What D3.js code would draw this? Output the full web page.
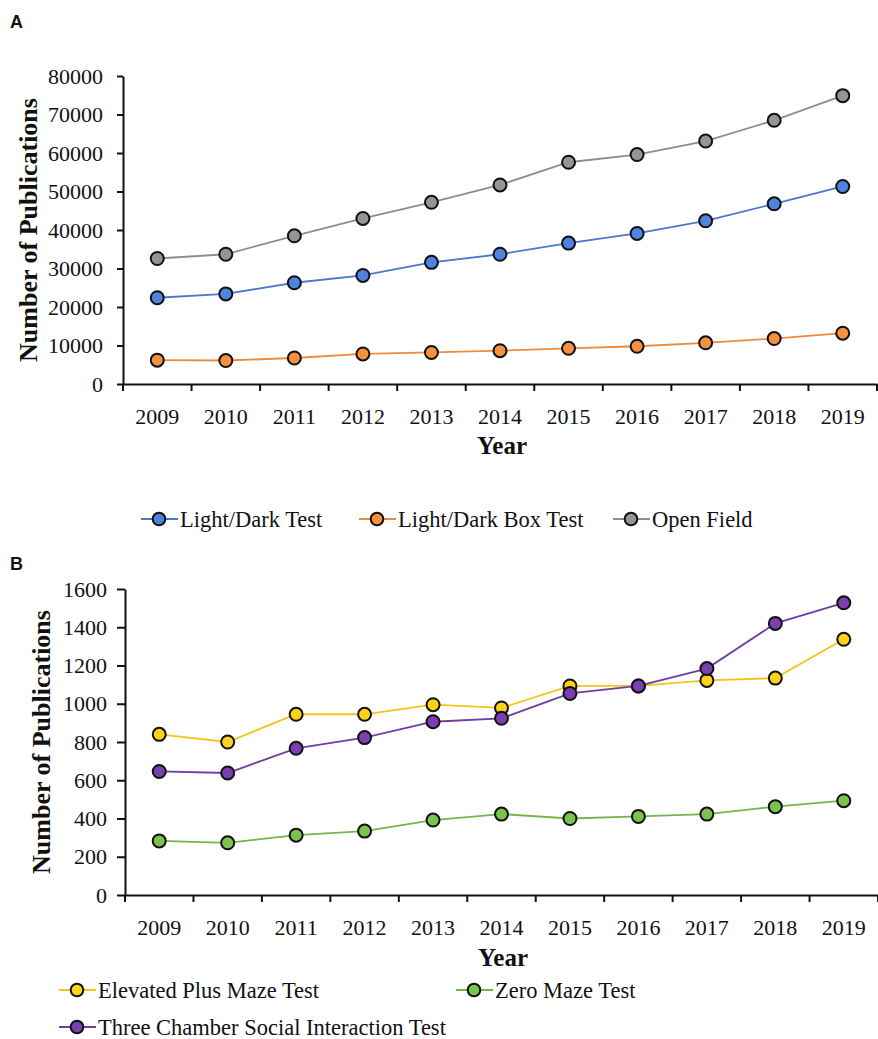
<!DOCTYPE html>
<html>
<head>
<meta charset="utf-8">
<script src="https://cdn.jsdelivr.net/npm/d3@7"></script>
<style>
  html, body { margin: 0; padding: 0; background: #fff; }
  svg { display: block; }
  text { font-family: "Liberation Serif", "Times New Roman", serif; fill: #111; }
</style>
</head>
<body>
<svg id="chart" width="878" height="1039"></svg>
<script>
// Years shared by both panels
const years = ["2009","2010","2011","2012","2013","2014","2015","2016","2017","2018","2019"];

// Panel A: publications per year
const lightDarkTest    = [22400, 23400, 26300, 28200, 31600, 33700, 36600, 39100, 42400, 46800, 51300];
const lightDarkBoxTest = [6200, 6100, 6750, 7800, 8200, 8650, 9270, 9800, 10700, 11800, 13200];
const openField        = [32600, 33700, 38500, 43000, 47200, 51700, 57600, 59600, 63100, 68500, 74900];
const ticksA = [0, 10000, 20000, 30000, 40000, 50000, 60000, 70000, 80000];

// Panel B: publications per year
const elevatedPlusMaze  = [840, 800, 945, 945, 995, 978, 1093, 1093, 1122, 1134, 1337];
const zeroMaze          = [283, 273, 313, 334, 392, 423, 400, 411, 423, 462, 493];
const threeChamberSocial = [646, 638, 767, 823, 906, 924, 1054, 1093, 1184, 1420, 1528];
const ticksB = [0, 200, 400, 600, 800, 1000, 1200, 1400, 1600];

const seriesA = [
  { name: "Light/Dark Test",     values: lightDarkTest,    line: "#4a78cf", fill: "#4f83e0" },
  { name: "Light/Dark Box Test", values: lightDarkBoxTest, line: "#ee8a3c", fill: "#f5913f" },
  { name: "Open Field",          values: openField,        line: "#8d8d8d", fill: "#959595" }
];
const seriesB = [
  { name: "Elevated Plus Maze Test",            values: elevatedPlusMaze,   line: "#f5c419", fill: "#ffd21a" },
  { name: "Zero Maze Test",                     values: zeroMaze,           line: "#77b34b", fill: "#7cc24f" },
  { name: "Three Chamber Social Interaction Test", values: threeChamberSocial, line: "#6e3ea0", fill: "#7a3fb0" }
];

const svg = d3.select("#chart");

function drawPanel(cfg) {
  const g = svg.append("g");
  const x = d3.scaleBand().domain(years).range([cfg.left, cfg.right]).padding(0);
  const y = d3.scaleLinear().domain([0, cfg.max]).range([cfg.bottom, cfg.top]);

  // y axis, plain integer labels
  const yAxis = g.append("g")
    .attr("transform", `translate(${cfg.left},0)`)
    .call(d3.axisLeft(y).tickValues(cfg.ticks).tickFormat(d3.format("d"))
      .tickSize(cfg.tickLen).tickPadding(cfg.yPad).tickSizeOuter(0));
  yAxis.select(".domain").attr("stroke", "#111").attr("stroke-width", 2);
  yAxis.selectAll(".tick line").attr("stroke", "#111").attr("stroke-width", 2);
  yAxis.selectAll(".tick text").style("font-size", "22px").attr("fill", "#111")
    .style("font-family", "'Liberation Serif', serif");

  // x axis: labels at band centres, tick marks at band edges
  const xAxis = g.append("g")
    .attr("transform", `translate(0,${cfg.bottom})`)
    .call(d3.axisBottom(x).tickSize(0).tickPadding(cfg.xPad).tickSizeOuter(0));
  xAxis.select(".domain").attr("stroke", "#111").attr("stroke-width", 2);
  xAxis.selectAll(".tick text").style("font-size", "22px").attr("fill", "#111")
    .style("font-family", "'Liberation Serif', serif");
  const edges = years.map(d => x(d)).concat([x(years[years.length - 1]) + x.bandwidth()]);
  xAxis.selectAll("line.edge").data(edges).enter().append("line")
    .attr("class", "edge")
    .attr("x1", d => d).attr("x2", d => d)
    .attr("y1", 0).attr("y2", 7)
    .attr("stroke", "#111").attr("stroke-width", 2);

  // titles
  g.append("text")
    .attr("transform", `translate(${cfg.yTitleX},${(cfg.top + cfg.bottom) / 2 + cfg.yTitleShift}) rotate(-90)`)
    .attr("text-anchor", "middle")
    .attr("dominant-baseline", "central")
    .style("font-size", "26px").style("font-weight", "bold")
    .text("Number of Publications");
  g.append("text")
    .attr("x", cfg.yearX).attr("y", cfg.yearY)
    .attr("text-anchor", "middle").attr("dominant-baseline", "central")
    .style("font-size", "25px").style("font-weight", "bold")
    .text("Year");

  // panel letter
  g.append("text")
    .attr("x", cfg.letterX).attr("y", cfg.letterY)
    .style("font-family", "'Liberation Sans', Arial, sans-serif")
    .style("font-size", "18px").style("font-weight", "bold")
    .text(cfg.letter);

  // series lines then markers
  const line = d3.line()
    .x((d, i) => x(years[i]) + x.bandwidth() / 2)
    .y(d => y(d));
  cfg.series.forEach(s => {
    g.append("path")
      .datum(s.values)
      .attr("d", line)
      .attr("fill", "none")
      .attr("stroke", s.line)
      .attr("stroke-width", 1.8);
  });
  cfg.series.forEach(s => {
    g.selectAll(null).data(s.values).enter().append("circle")
      .attr("cx", (d, i) => x(years[i]) + x.bandwidth() / 2)
      .attr("cy", d => y(d))
      .attr("r", 6.5)
      .attr("fill", s.fill)
      .attr("stroke", "#111")
      .attr("stroke-width", 2);
  });

  // legend
  cfg.legend.forEach((pos, i) => {
    const s = cfg.series[i];
    const lg = g.append("g").attr("transform", `translate(${pos[0]},${pos[1]})`);
    lg.append("line").attr("x1", 0).attr("x2", 37).attr("y1", 0).attr("y2", 0)
      .attr("stroke", s.line).attr("stroke-width", 1.8);
    lg.append("circle").attr("cx", 18).attr("cy", 0).attr("r", 6.3)
      .attr("fill", s.fill).attr("stroke", "#111").attr("stroke-width", 2);
    lg.append("text").attr("x", 39).attr("y", 0)
      .attr("dominant-baseline", "central")
      .style("font-size", "22.5px")
      .text(s.name);
  });
}

drawPanel({
  letter: "A", letterX: 10, letterY: 28,
  left: 123, right: 877, top: 76, bottom: 384, max: 80000,
  ticks: ticksA, tickLen: 6, yPad: 14, xPad: 24,
  yTitleX: 28, yTitleShift: 0, yearX: 502, yearY: 445,
  series: seriesA,
  legend: [[141, 519], [359, 519], [613, 519]]
});

drawPanel({
  letter: "B", letterX: 10, letterY: 570,
  left: 125, right: 878, top: 589, bottom: 895, max: 1600,
  ticks: ticksB, tickLen: 8, yPad: 10, xPad: 24,
  yTitleX: 41, yTitleShift: 0, yearX: 503, yearY: 957,
  series: seriesB,
  legend: [[59, 990], [456, 990], [59, 1027]]
});
</script>
</body>
</html>
